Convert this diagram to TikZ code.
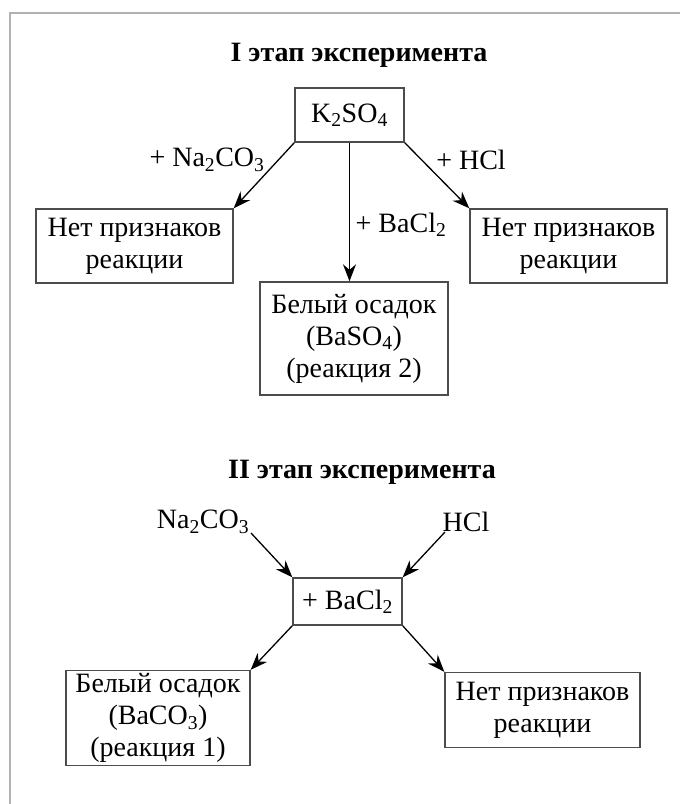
\documentclass[tikz,border=0pt]{standalone}
\usepackage{fontspec}
\setmainfont{Liberation Serif}
\usetikzlibrary{arrows.meta}
\tikzset{
  box/.style={draw=black!70, line width=1.4pt, align=center, inner sep=0pt,
    font=\fontsize{28}{32}\selectfont},
  lbl/.style={inner sep=0pt, font=\fontsize{28}{32}\selectfont},
  ttl/.style={inner sep=0pt, font=\fontsize{28}{32}\selectfont\bfseries},
  arr/.style={-{Stealth[length=17pt,width=13pt]}, line width=1.3pt, black},
  frame/.style={draw=black!30, line width=2pt}
}
\begin{document}
\begin{tikzpicture}[x=1pt,y=-1pt]
\useasboundingbox (0,0) rectangle (680,804);
% frame
\coordinate (fa) at (10,804);
\coordinate (fb) at (10,13);
\coordinate (fc) at (680,13);
\draw[frame] (fa) -- (fb) -- (fc);

% stage I
\node[ttl] (t1) at (359,55) {I этап эксперимента};
\node[box, minimum width=109pt, minimum height=54pt] (k) at (349.5,115) {K\textsubscript{2}SO\textsubscript{4}};
\node[box, minimum width=197pt, minimum height=74pt] (l1) at (134.5,246) {Нет признаков\\реакции};
\node[box, minimum width=197pt, minimum height=74pt] (r1) at (568.5,246) {Нет признаков\\реакции};
\node[box, minimum width=188pt, minimum height=113pt] (m1) at (354,338.5) {Белый осадок\\(BaSO\textsubscript{4})\\(реакция 2)};
\coordinate (kb) at (k.south);
\draw[arr] (k.south west) -- (l1.north east);
\draw[arr] (k.south east) -- (r1.north west);
\draw[arr] (kb) -- (kb |- m1.north);
\node[lbl] (la) at (207,160) {+ Na\textsubscript{2}CO\textsubscript{3}};
\node[lbl] (lb) at (471,160) {+ HCl};
\node[lbl] (lc) at (401,225) {+ BaCl\textsubscript{2}};

% stage II
\node[ttl] (t2) at (362,472) {II этап эксперимента};
\node[lbl] (na) at (203,522) {Na\textsubscript{2}CO\textsubscript{3}};
\node[lbl] (hc) at (466,522) {HCl};
\node[box, minimum width=109pt, minimum height=47pt] (b) at (347.5,601.5) {+ BaCl\textsubscript{2}};
\node[box, minimum width=184pt, minimum height=95pt] (l2) at (158,718) {Белый осадок\\(BaCO\textsubscript{3})\\(реакция 1)};
\node[box, minimum width=195pt, minimum height=75pt] (r2) at (542.5,710) {Нет признаков\\реакции};
\coordinate (naend) at (251,533);
\coordinate (hcend) at (445,532);
\draw[arr] (naend) -- (b.north west);
\draw[arr] (hcend) -- (b.north east);
\draw[arr] (b.south west) -- (l2.north east);
\draw[arr] (b.south east) -- (r2.north west);
\end{tikzpicture}
\end{document}
